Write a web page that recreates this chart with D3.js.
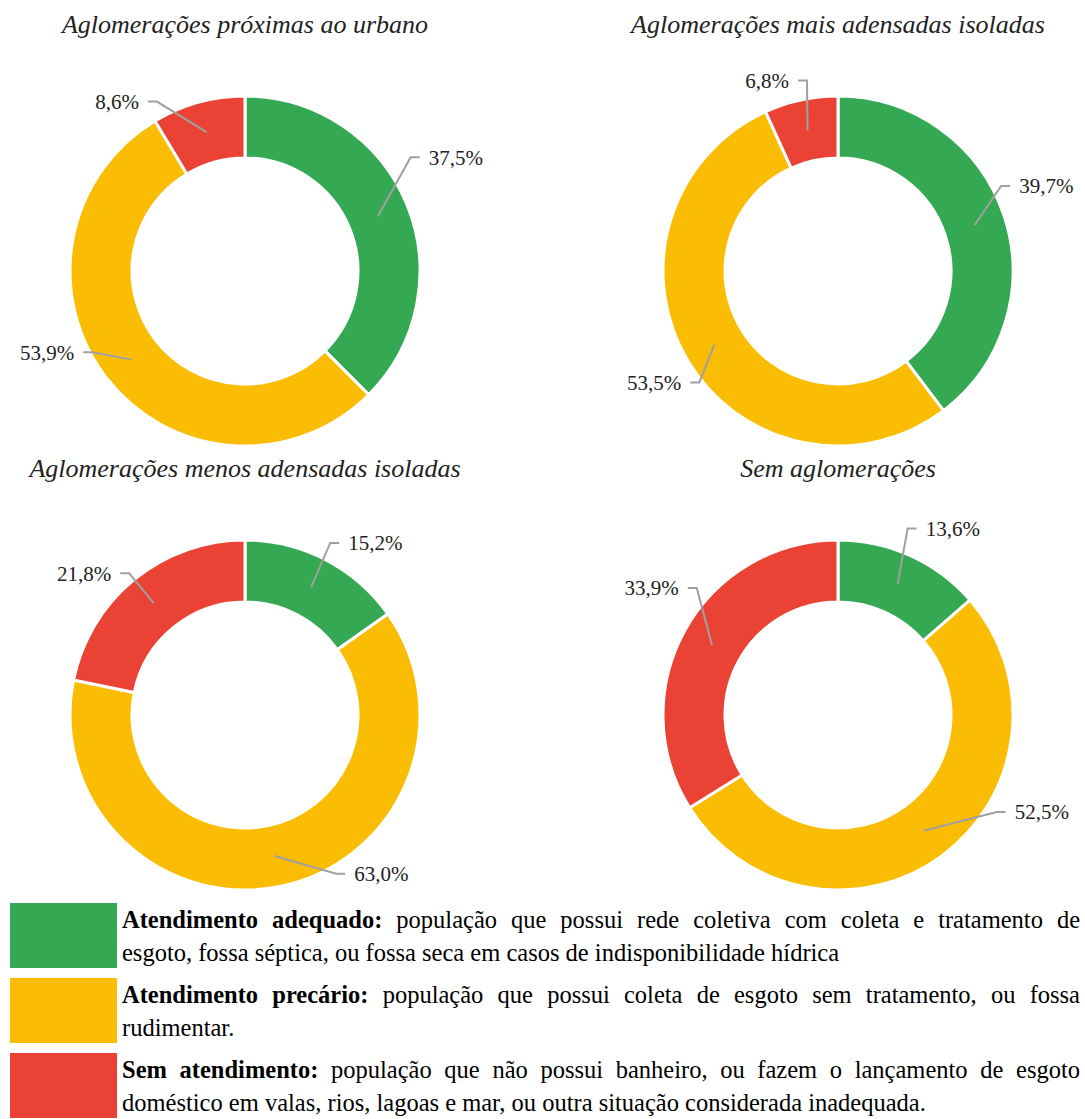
<!DOCTYPE html>
<html><head><meta charset="utf-8">
<script src="https://cdn.jsdelivr.net/npm/d3@7"></script>
<style>body{margin:0;background:#fff} svg{display:block} text{font-family:"Liberation Serif","Times New Roman",serif}</style>
</head><body>
<svg id="c" width="1085" height="1119"></svg>
<script>
// ---------- data ----------
const chartTitles = [
  "Aglomerações próximas ao urbano",
  "Aglomerações mais adensadas isoladas",
  "Aglomerações menos adensadas isoladas",
  "Sem aglomerações"
];
const categories = ["Atendimento adequado", "Atendimento precário", "Sem atendimento"];
const valuesProximas = [37.5, 53.9, 8.6];
const valuesMaisAdensadas = [39.7, 53.5, 6.8];
const valuesMenosAdensadas = [15.2, 63.0, 21.8];
const valuesSemAglomeracoes = [13.6, 52.5, 33.9];

const legendHeads = ["Atendimento adequado:", "Atendimento precário:", "Sem atendimento:"];
const legendLine1 = [
  "população que possui rede coletiva com coleta e tratamento de",
  "população que possui coleta de esgoto sem tratamento, ou fossa",
  "população que não possui banheiro, ou fazem o lançamento de esgoto"
];
const legendLine2 = [
  "esgoto, fossa séptica, ou fossa seca em casos de indisponibilidade hídrica",
  "rudimentar.",
  "doméstico em valas, rios, lagoas e mar, ou outra situação considerada inadequada."
];

// ---------- layout ----------
const series = [valuesProximas, valuesMaisAdensadas, valuesMenosAdensadas, valuesSemAglomeracoes];
// leader-line elbow: angular nudge (deg) from slice mid-angle, and elbow radius offset from outer radius
const labelNudgeDeg = [[-12, 10, -12], [-9, -8, 3], [-1, -18, 0], [-4, -22, 13]];
const labelRadiusOff = [[26, -2, 16], [9, 3, 18], [17, 8, 8], [24, 11, 15]];
const colX = [245, 838], rowY = [271, 715];
const R = 175, Rin = 113;
const serif = "Liberation Serif, Times New Roman, serif";

const svg = d3.select("#c");
const color = d3.scaleOrdinal().domain(categories).range(["#34A853", "#FBBC04", "#EA4335"]);
const pie = d3.pie().sort(null).value(d => d.v);
const arc = d3.arc().innerRadius(Rin).outerRadius(R);
const fmt = v => d3.format(".1f")(v).replace(".", ",") + "%";

series.forEach((vals, i) => {
  const cx = colX[i % 2], cy = rowY[Math.floor(i / 2)];
  const g = svg.append("g").attr("transform", `translate(${cx},${cy})`);
  g.append("text").attr("x", 0).attr("y", -238).attr("text-anchor", "middle")
    .style("font-family", serif).attr("font-style", "italic").attr("font-size", 26)
    .attr("fill", "#222").text(chartTitles[i]);
  const arcs = pie(vals.map((v, j) => ({ v, cat: categories[j] })));
  g.selectAll("path.slice").data(arcs).join("path").attr("class", "slice")
    .attr("d", arc).attr("fill", d => color(d.data.cat))
    .attr("stroke", "#fff").attr("stroke-width", 3).attr("stroke-linejoin", "round");
  arcs.forEach((a, j) => {
    const mid = (a.startAngle + a.endAngle) / 2;
    const la = mid + labelNudgeDeg[i][j] * Math.PI / 180;
    const rs = (R + Rin) / 2, re = R + labelRadiusOff[i][j];
    const p0 = [Math.sin(mid) * rs, -Math.cos(mid) * rs];
    const p1 = [Math.sin(la) * re, -Math.cos(la) * re];
    const side = p1[0] >= 0 ? 1 : -1;
    const p2 = [p1[0] + side * 9, p1[1]];
    g.append("path").attr("d", d3.line()([p0, p1, p2])).attr("fill", "none")
      .attr("stroke", "#a0a0a0").attr("stroke-width", 2);
    g.append("text").attr("x", p2[0] + side * 9).attr("y", p2[1]).attr("dy", "0.35em")
      .attr("text-anchor", side > 0 ? "start" : "end")
      .style("font-family", serif).attr("font-size", 21).attr("fill", "#222")
      .text(fmt(a.data.v));
  });
});

// ---------- legend ----------
const lx0 = 122, lx1 = 1080, legFS = 24.5;
const measure = (txt, bold) => {
  const t = svg.append("text").style("font-family", serif).attr("font-size", legFS)
    .attr("font-weight", bold ? "bold" : "normal").text(txt);
  const w = t.node().getComputedTextLength(); t.remove(); return w;
};
categories.forEach((c, k) => {
  const top = 903 + k * 75;
  svg.append("rect").attr("x", 10).attr("y", top).attr("width", 107).attr("height", 65).attr("fill", color(c));
  const words = legendHeads[k].split(" ").map(w => ({ w, b: true }))
    .concat(legendLine1[k].split(" ").map(w => ({ w, b: false })));
  words.forEach(o => o.len = measure(o.w, o.b));
  const total = d3.sum(words, o => o.len);
  const gap = (lx1 - lx0 - total) / (words.length - 1);
  let x = lx0;
  words.forEach(o => {
    svg.append("text").attr("x", x).attr("y", top + 16).attr("dy", "0.35em")
      .style("font-family", serif).attr("font-size", legFS).attr("fill", "#000")
      .attr("font-weight", o.b ? "bold" : "normal").text(o.w);
    x += o.len + gap;
  });
  svg.append("text").attr("x", lx0).attr("y", top + 49).attr("dy", "0.35em")
    .style("font-family", serif).attr("font-size", legFS).attr("fill", "#000").text(legendLine2[k]);
});
</script>
</body></html>
